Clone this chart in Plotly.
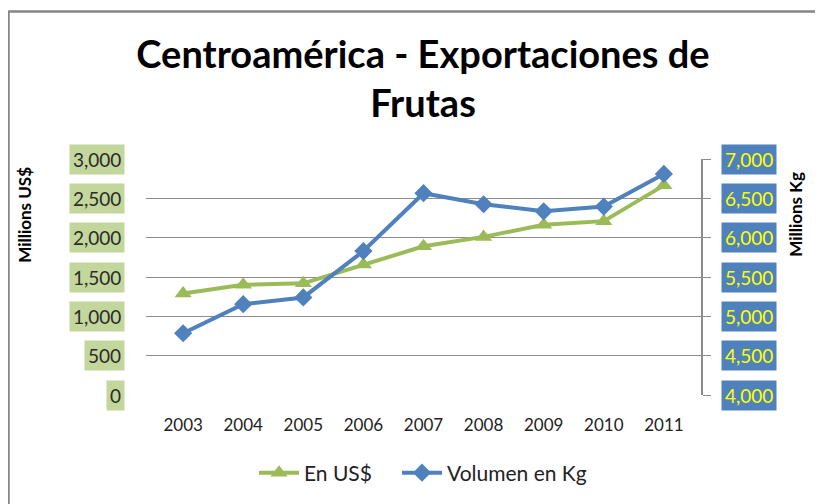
import plotly.graph_objects as go

years = ["2003", "2004", "2005", "2006", "2007", "2008", "2009", "2010", "2011"]
usd = [1290, 1400, 1420, 1660, 1890, 2010, 2165, 2210, 2665]
kg = [4785, 5155, 5240, 5830, 6565, 6425, 6335, 6395, 6810]
left_ticks = [0, 500, 1000, 1500, 2000, 2500, 3000]
right_ticks = [4000, 4500, 5000, 5500, 6000, 6500, 7000]

FONT = "Lato"
GREEN = "#9bbb59"
BLUE = "#4f81bd"
GRID = "#8c8c8c"

# page body has an 8px margin; figure is sized/positioned to compensate
W, H = 815, 496
OFF = 8

fig = go.Figure()
fig.add_trace(go.Scatter(
    x=years, y=usd, name="En US$", mode="lines+markers",
    line=dict(color=GREEN, width=4),
    marker=dict(symbol="triangle-up", size=15, color=GREEN),
    yaxis="y", legend="legend", showlegend=True))
fig.add_trace(go.Scatter(
    x=years, y=kg, name="Volumen en Kg", mode="lines+markers",
    line=dict(color=BLUE, width=4),
    marker=dict(symbol="diamond", size=14, color=BLUE),
    yaxis="y2", legend="legend2", showlegend=True))

annotations = []
for v in left_ticks:
    annotations.append(dict(
        xref="paper", yref="y", x=0, y=v, xanchor="right", yanchor="middle",
        xshift=-21, text=f"{v:,}", showarrow=False, bgcolor="#c3d69b",
        borderpad=3, font=dict(family=FONT, size=19, color="#2b2b2b")))
for v in right_ticks:
    annotations.append(dict(
        xref="paper", yref="y2", x=1, y=v, xanchor="left", yanchor="middle",
        xshift=20, text=f"{v:,}", showarrow=False, bgcolor=BLUE,
        borderpad=3, font=dict(family=FONT, size=19, color="#ffff00")))
annotations.append(dict(
    xref="paper", yref="paper", x=(25 - 146) / 555, y=(396 - 215) / 237,
    xanchor="center", yanchor="middle",
    text="<b>Millions US$</b>", textangle=-90, showarrow=False,
    font=dict(family=FONT, size=17, color="black")))
annotations.append(dict(
    xref="paper", yref="paper", x=(796 - 146) / 555, y=(396 - 215) / 237,
    xanchor="center", yanchor="middle",
    text="<b>Millions Kg</b>", textangle=-90, showarrow=False,
    font=dict(family=FONT, size=17, color="black")))

leg_common = dict(orientation="h", xanchor="left", y=(396 - 473) / 237,
                  yanchor="middle", font=dict(family=FONT, size=21, color="#222"),
                  itemwidth=40, bgcolor="rgba(0,0,0,0)")

fig.update_layout(
    width=W, height=H,
    showlegend=True,
    margin=dict(l=146 - OFF, r=W - (701 - OFF), t=159 - OFF, b=H - (396 - OFF)),
    paper_bgcolor="white", plot_bgcolor="white",
    title=dict(text="<b>Centroamérica - Exportaciones de<br>Frutas</b>",
               x=(423 - OFF) / W, xanchor="center", y=1 - (68 - OFF) / H, yanchor="middle",
               yref="container", xref="container",
               font=dict(family=FONT, size=38, color="black")),
    xaxis=dict(type="category", showgrid=False, zeroline=False, showline=False,
               ticks="", tickfont=dict(family=FONT, size=17, color="#222"),
               ticklabelstandoff=18),
    yaxis=dict(range=[0, 3000], tickvals=left_ticks, showticklabels=False,
               showgrid=True, gridcolor=GRID, gridwidth=1, zeroline=False,
               showline=False, ticks=""),
    yaxis2=dict(range=[4000, 7000], tickvals=right_ticks, showticklabels=False,
                overlaying="y", side="right", showgrid=False, zeroline=False,
                showline=True, linecolor=GRID, linewidth=1.5,
                ticks="outside", ticklen=8, tickcolor=GRID),
    legend=dict(x=(254 - 146) / 555, **leg_common),
    legend2=dict(x=(397 - 146) / 555, **leg_common),
    annotations=annotations,
    shapes=[dict(type="rect", xref="paper", yref="paper",
                 x0=(8.5 - 146) / 555, x1=(840 - 146) / 555,
                 y0=(396 - 520) / 237, y1=(396 - 11) / 237,
                 line=dict(color="#868686", width=2.5), fillcolor="rgba(0,0,0,0)",
                 layer="below")],
)

fig.write_html("out.html")
